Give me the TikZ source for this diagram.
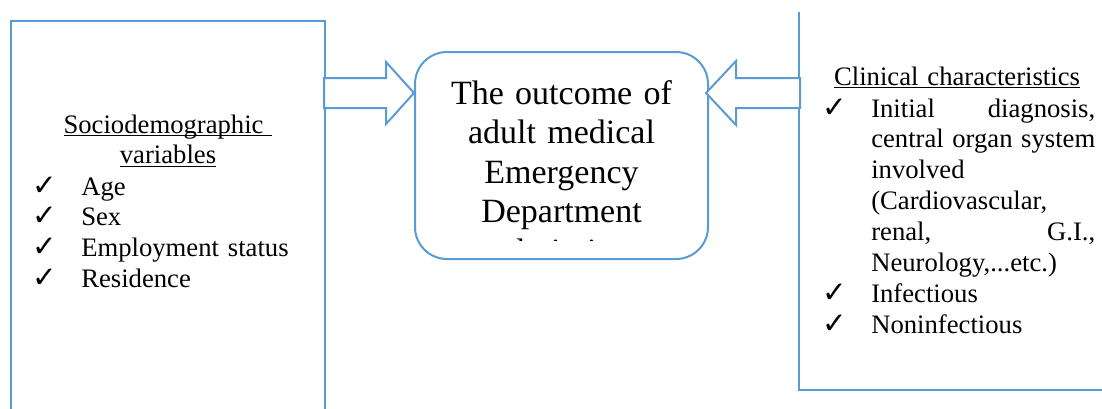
\documentclass[tikz,border=0pt]{standalone}
\usepackage{fontspec}
\setmainfont{Liberation Serif}
\newfontfamily\symfont{DejaVu Sans}
\usetikzlibrary{
    positioning
}

\definecolor{frameblue}{RGB}{91,155,213}
\newcommand{\chk}{\makebox[36.75pt][l]{\symfont\fontsize{22}{22}\selectfont ✓}}
\newcommand{\ind}{\hspace*{36.75pt}}
% underline at a fixed depth, crossing the descenders
\newcommand{\undl}[1]{\leavevmode\setbox0\hbox{#1}\rlap{\rule[-2.6pt]{\wd0}{0.75pt}}\box0}

\tikzset{
    frame/.style={draw=frameblue, line width=1.5pt, inner sep=0pt},
    blockarrow/.style={draw=frameblue, line width=1.5pt, fill=white, line join=miter},
    bodytext/.style={inner sep=0pt, font=\fontsize{20}{23.2}\selectfont},
    bigtext/.style={inner sep=0pt, font=\fontsize{25.5}{29.7}\selectfont}
}

\begin{document}
\begin{tikzpicture}[x=0.75pt, y=-0.75pt]
    \useasboundingbox (0,0) rectangle (1102,408);

    % the three boxes (the outer two run off the page)
    \node[frame, minimum width=235.5pt, minimum height=314.25pt] (socio) at (168,230.5) {};
    \draw[frame] (799,12) coordinate (clintop) -- (799,390) -- (1106,390);
    \node[frame, rounded corners=24pt, minimum width=219.75pt, minimum height=155.25pt] (outcome) at (561.5,155.5) {};

    % text of the middle box, last line cut off by the box
    \begin{scope}
        \clip (415,52) rectangle (708,240);
        \node[bigtext, anchor=base, text width=210pt, align=center] (outcometext) at (561.5,104)
            {The outcome of\\adult medical\\Emergency\\Department\\admission};
    \end{scope}

    % left side
    \node[bodytext, anchor=base, text width=225pt, align=center] (sociotitle) at (168,133)
        {\undl{Sociodemographic\ }\\\undl{variables}};
    \node[bodytext, anchor=base west, text width=210pt, align=left] (sociolist) at (32,195)
        {\chk Age\\\chk Sex\\\chk Employment status\\\chk Residence};

    % right side
    \node[bodytext, anchor=base, text width=225pt, align=center] (clintitle) at (957,85)
        {\undl{Clinical characteristics}};
    \node[bodytext, anchor=base west, text width=204.75pt, align=left] (clinlist) at (822,117)
        {\chk\makebox[168pt][l]{Initial\hfill diagnosis,}\\
         \ind\makebox[168pt][l]{central\hfill organ\hfill system}\\
         \ind involved\\
         \ind (Cardiovascular,\\
         \ind\makebox[168pt][l]{renal,\hfill G.I.,}\\
         \ind Neurology,...etc.)\\
         \chk Infectious\\
         \chk Noninfectious};

    % block arrows into the middle box
    \path (outcome.west) ++(0,-62.5) coordinate (ltip);
    \path (outcome.east) ++(-3,-62.5) coordinate (rtip);
    \draw[blockarrow] (ltip) -- ++(-28,-31) -- ++(0,16) -- ++(-62,0) -- ++(0,30)
        -- ++(62,0) -- ++(0,16) -- cycle;
    \draw[blockarrow] (rtip) -- ++(30,-32) -- ++(0,17) -- ++(64,0) -- ++(0,30)
        -- ++(-64,0) -- ++(0,17) -- cycle;
\end{tikzpicture}
\end{document}
